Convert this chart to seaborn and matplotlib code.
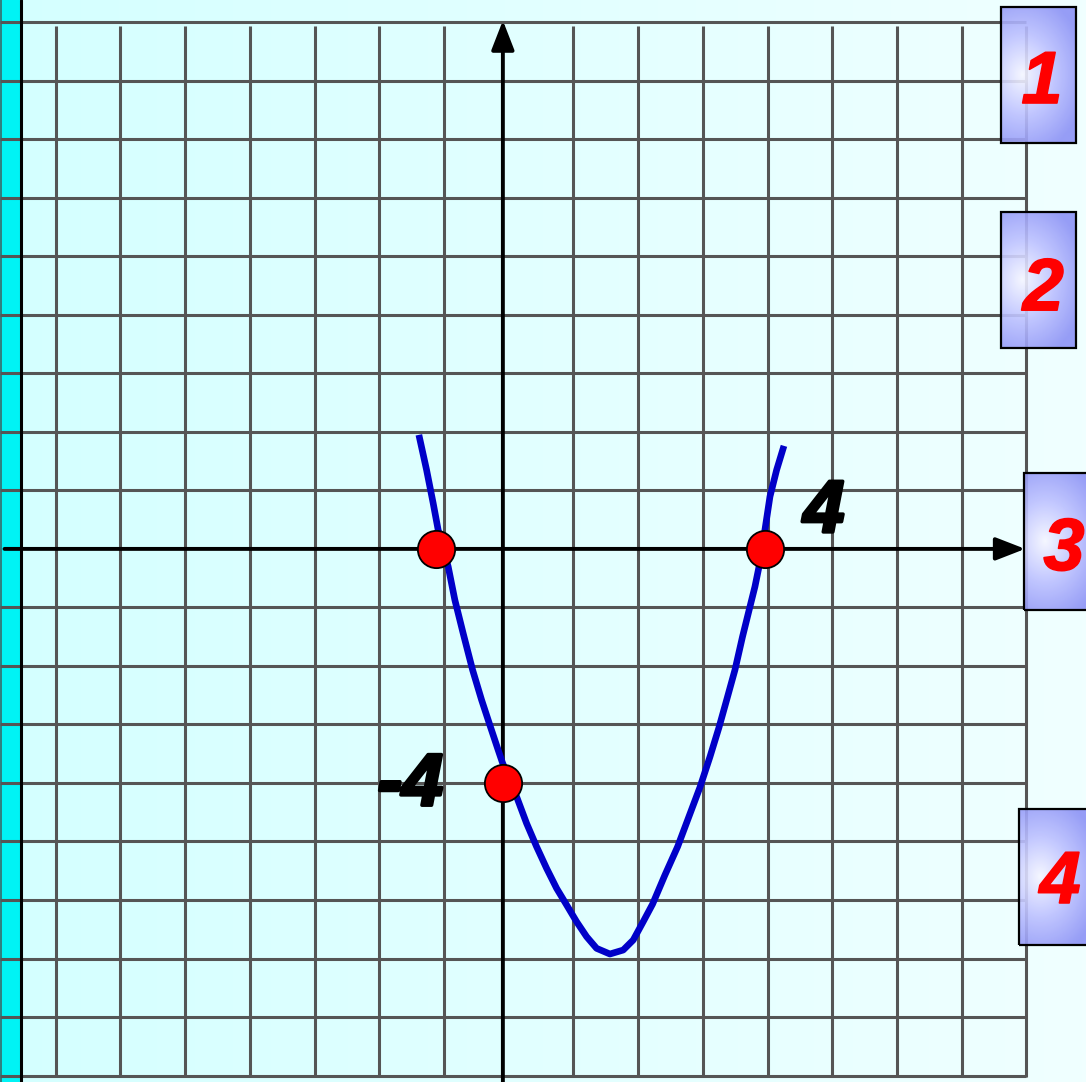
import numpy as np
import matplotlib
matplotlib.use("Agg")
import matplotlib.pyplot as plt
import matplotlib.patheffects as pe
import seaborn as sns
from matplotlib.patches import Rectangle
from matplotlib.colors import LinearSegmentedColormap

# points (grid units)
curve_x = [-1.298, -1.179, -1.077, -1.000, -0.845, -0.742, -0.614, -0.468, -0.329,
           -0.190, -0.073, -0.005, 0.212, 0.366, 0.521, 0.675, 0.830, 0.985, 1.139,
           1.294, 1.448, 1.654, 1.859, 2.014, 2.168, 2.314, 2.504, 2.700, 2.890,
           3.045, 3.199, 3.338, 3.462, 3.586, 3.702, 3.818, 3.895, 3.957, 4.049,
           4.127, 4.230, 4.343]
curve_y = [1.949, 1.350, 0.781, 0.325, -0.303, -0.872, -1.441, -2.068, -2.581,
           -3.048, -3.436, -3.658, -4.234, -4.689, -5.089, -5.458, -5.800, -6.085, -6.371,
           -6.627, -6.826, -6.923, -6.855, -6.684, -6.371, -6.068, -5.573, -5.089, -4.530,
           -4.074, -3.556, -3.055, -2.564, -2.068, -1.504, -0.986, -0.644, -0.308, 0.325,
           0.894, 1.350, 1.761]

# marked points: roots and y-intercept
dot_x = [-1.03, 4.05, 0.0]
dot_y = [0.0, 0.0, -4.0]

point_labels = ["4", "-4"]
box_labels = ["1", "2", "3", "4"]

sns.set_style("white")
plt.rcParams['font.family'] = ['Liberation Sans', 'DejaVu Sans']

fig = plt.figure(figsize=(10.86, 10.82), dpi=100)
ax = fig.add_axes([0, 0, 1, 1])
ax.axis("off")

X0, X1 = -7.77, 9.01
Y0, Y1 = -9.11, 9.38

# background
bg = LinearSegmentedColormap.from_list("bg", ["#d4ffff", "#f0ffff"])
ax.imshow(np.linspace(0, 1, 256).reshape(1, -1), extent=[X0, X1, Y0, Y1],
          cmap=bg, aspect="auto", zorder=0)

# cyan strip on the left
ax.axvspan(X0, -7.46, color="#00f3f5", zorder=0.5, lw=0)
ax.axvline(X0 + 0.02, color="#3a6a6a", lw=1.2, zorder=0.6)
ax.axvline(-7.45, color="black", lw=2.2, zorder=1.2)

# grid
gx = [k + 0.09 for k in range(-7, 9) if k != 0]
gy = [k for k in range(-9, 10) if k != 0]
ax.vlines(gx, -9.02, 8.93, colors="#555555", lw=2.2, zorder=1)
ax.hlines(gy, X0, 8.09, colors="#555555", lw=2.2, zorder=1)

# axes with arrows
arrow = dict(arrowstyle="-|>,head_length=0.9,head_width=0.35", color="black",
             lw=2.8, mutation_scale=20, shrinkA=0, shrinkB=0)
ax.annotate("", xy=(8.07, 0), xytext=(-7.70, 0), arrowprops=arrow, zorder=2)
ax.annotate("", xy=(0, 9.03), xytext=(0, Y0), arrowprops=arrow, zorder=2)

# parabola and points
sns.lineplot(x=curve_x, y=curve_y, sort=False, estimator=None, color="#0000c8",
             linewidth=4.8, ax=ax, zorder=3, solid_capstyle="butt",
             solid_joinstyle="round")
sns.scatterplot(x=dot_x, y=dot_y, s=720, color="#ff0000", edgecolor="black",
                linewidth=1.3, ax=ax, zorder=4)

heavy = [pe.withStroke(linewidth=2.5, foreground="black")]
lab = dict(fontsize=53, fontweight="bold", fontstyle="italic", color="black",
           ha="center", va="baseline", zorder=5, path_effects=heavy)
ax.text(4.96, 0.29, point_labels[0], **lab)
ax.text(-1.43, -4.38, point_labels[1], **lab)

# numbered boxes on the right
box_cmap = LinearSegmentedColormap.from_list("box", ["#f6f6ff", "#bcc0ff", "#8c92f6"])
boxes = [(7.697, 8.856, 6.94, 9.265, 8.33, 7.62),
         (7.697, 8.856, 3.436, 5.761, 8.35, 4.08),
         (8.053, 9.21, -1.043, 1.299, 8.67, -0.36),
         (7.975, 9.13, -6.769, -4.444, 8.61, -6.05)]
xx, yy = np.meshgrid(np.linspace(0, 1, 80), np.linspace(0, 1, 120))
d = np.clip(np.sqrt(((xx - 0.28) / 0.85) ** 2 + ((yy - 0.5) / 0.6) ** 2), 0, 1)
red_fx = [pe.withStroke(linewidth=1.2, foreground="#ff0000")]
for (bx0, bx1, by0, by1, tx, ty), txt in zip(boxes, box_labels):
    ax.imshow(d, extent=[bx0, bx1, by0, by1], cmap=box_cmap, vmin=0, vmax=1,
              alpha=0.9, aspect="auto", zorder=6, interpolation="bilinear")
    ax.add_patch(Rectangle((bx0, by0), bx1 - bx0, by1 - by0, fill=False,
                           ec="black", lw=1.6, zorder=7))
    ax.text(tx, ty, txt, fontsize=53, fontweight="bold", fontstyle="italic",
            color="#ff0000", ha="center", va="baseline", zorder=8,
            path_effects=red_fx)

ax.set_xlim(X0, X1)
ax.set_ylim(Y0, Y1)
fig.savefig("out.png", dpi=100)
